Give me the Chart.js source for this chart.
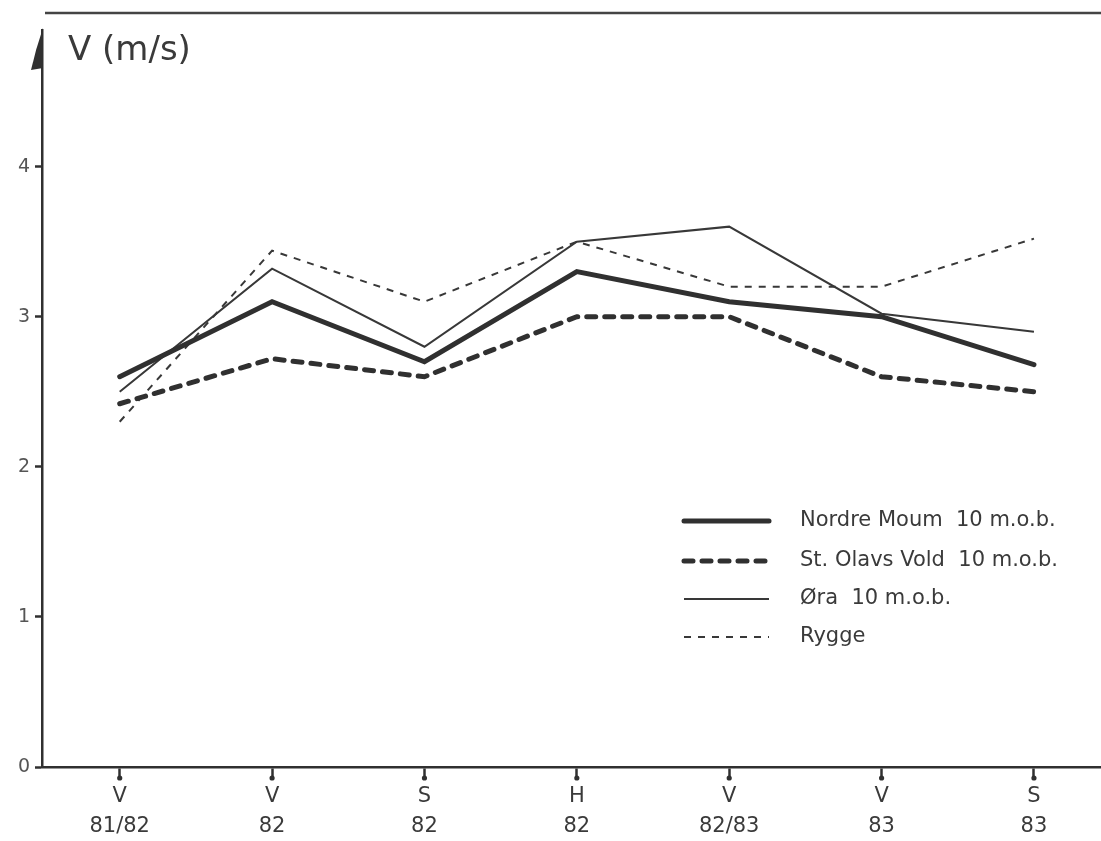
<!DOCTYPE html>
<html>
<head>
<meta charset="utf-8">
<script src="https://cdn.jsdelivr.net/npm/chart.js@4.4.1/dist/chart.umd.min.js"></script>
<style>
  html, body { margin: 0; padding: 0; background: #fff; }
  #wrap { width: 1101px; height: 841px; }
</style>
</head>
<body>
<div id="wrap"><canvas id="windChart" width="1101" height="841"></canvas></div>
<script>
// Categories (season + year)
const seasons = ['V', 'V', 'S', 'H', 'V', 'V', 'S'];
const years = ['81/82', '82', '82', '82', '82/83', '83', '83'];

// Mean wind speed, m/s
const nordreMoum = [2.6, 3.1, 2.7, 3.3, 3.1, 3.0, 2.68];
const stOlavsVold = [2.42, 2.72, 2.6, 3.0, 3.0, 2.6, 2.5];
const ora = [2.5, 3.32, 2.8, 3.5, 3.6, 3.02, 2.9];
const rygge = [2.3, 3.44, 3.1, 3.5, 3.2, 3.2, 3.52];

const yTicks = [0, 1, 2, 3, 4];

const ink = '#303030';

function toPoints(values) {
    return values.map(function(v, i) { return { x: i, y: v }; });
}

// Draws the axis title, arrow, frame line and the legend
const decorations = {
    id: 'decorations',
    afterDraw: function(chart) {
        var ctx = chart.ctx;
        var area = chart.chartArea;
        ctx.save();

        // scanned frame line at the top
        ctx.strokeStyle = '#444';
        ctx.lineWidth = 2.5;
        ctx.beginPath();
        ctx.moveTo(area.left + 3, 13);
        ctx.lineTo(chart.width, 13);
        ctx.stroke();

        // half arrowhead on the y axis
        ctx.fillStyle = ink;
        ctx.beginPath();
        ctx.moveTo(area.left + 1, area.top - 2);
        ctx.lineTo(area.left + 1, area.top + 38);
        ctx.lineTo(area.left - 11, area.top + 40);
        ctx.quadraticCurveTo(area.left - 6, area.top + 18, area.left + 1, area.top - 2);
        ctx.fill();

        // y axis title
        ctx.fillStyle = '#3a3a3a';
        ctx.font = '34px "DejaVu Sans"';
        ctx.textBaseline = 'alphabetic';
        ctx.textAlign = 'left';
        ctx.fillText('V (m/s)', area.left + 26, area.top + 30);

        // legend
        var lx0 = area.left + 642;
        var lx1 = area.left + 727;
        var tx = area.left + 758;
        var rows = [521, 561, 599, 637];
        ctx.font = '21px "DejaVu Sans"';
        ctx.textBaseline = 'middle';
        chart.data.datasets.forEach(function(ds, i) {
            var y = rows[i];
            ctx.strokeStyle = ds.borderColor;
            ctx.lineWidth = ds.borderWidth;
            ctx.lineCap = ds.borderCapStyle || 'butt';
            ctx.setLineDash(ds.borderDash || []);
            ctx.beginPath();
            ctx.moveTo(lx0, y);
            ctx.lineTo(lx1, y);
            ctx.stroke();
            ctx.setLineDash([]);
            ctx.fillStyle = '#3a3a3a';
            ctx.fillText(ds.label, tx, y);
        });

        // dots at the ends of the x tick marks
        var xs = chart.scales.x;
        ctx.fillStyle = ink;
        for (var i = 0; i < seasons.length; i++) {
            ctx.beginPath();
            ctx.arc(xs.getPixelForValue(i), area.bottom + 11, 2.6, 0, Math.PI * 2);
            ctx.fill();
        }
        ctx.restore();
    }
};

var ctx = document.getElementById('windChart').getContext('2d');
var windChart = new Chart(ctx, {
    type: 'line',
    data: {
        datasets: [
            {
                label: 'Nordre Moum  10 m.o.b.',
                data: toPoints(nordreMoum),
                borderColor: ink,
                borderWidth: 5,
                borderCapStyle: 'round'
            },
            {
                label: 'St. Olavs Vold  10 m.o.b.',
                data: toPoints(stOlavsVold),
                borderColor: ink,
                borderWidth: 5,
                borderDash: [9, 9],
                borderCapStyle: 'round'
            },
            {
                label: 'Øra  10 m.o.b.',
                data: toPoints(ora),
                borderColor: '#383838',
                borderWidth: 2
            },
            {
                label: 'Rygge',
                data: toPoints(rygge),
                borderColor: '#383838',
                borderWidth: 2,
                borderDash: [7, 7]
            }
        ]
    },
    options: {
        responsive: false,
        animation: false,
        devicePixelRatio: 1,
        layout: { padding: { top: 30, right: 0, left: 0, bottom: 0 } },
        elements: {
            point: { radius: 0 },
            line: { tension: 0, fill: false }
        },
        plugins: {
            legend: { display: false },
            tooltip: { enabled: false }
        },
        scales: {
            x: {
                type: 'linear',
                min: -0.51,
                max: 6.44,
                afterFit: function(scale) { scale.height = 74; },
                afterBuildTicks: function(scale) {
                    scale.ticks = seasons.map(function(s, i) { return { value: i }; });
                },
                border: { display: true, color: ink, width: 2.5 },
                grid: {
                    drawOnChartArea: false,
                    drawTicks: true,
                    tickLength: 11,
                    tickWidth: 2.5,
                    tickColor: ink
                },
                ticks: {
                    autoSkip: false,
                    maxRotation: 0,
                    padding: 4,
                    color: '#3a3a3a',
                    font: { family: 'DejaVu Sans', size: 21, lineHeight: 1.4 },
                    callback: function(value) {
                        return [seasons[value], years[value]];
                    }
                }
            },
            y: {
                min: 0,
                max: 4.91,
                afterFit: function(scale) { scale.width = 42; },
                afterBuildTicks: function(scale) {
                    scale.ticks = yTicks.map(function(v) { return { value: v }; });
                },
                border: { display: true, color: ink, width: 2.5 },
                grid: {
                    drawOnChartArea: false,
                    drawTicks: true,
                    tickLength: 7,
                    tickWidth: 2.5,
                    tickColor: ink
                },
                ticks: {
                    padding: 5,
                    color: '#555',
                    font: { family: 'DejaVu Sans', size: 19 }
                }
            }
        }
    },
    plugins: [decorations]
});
</script>
</body>
</html>
